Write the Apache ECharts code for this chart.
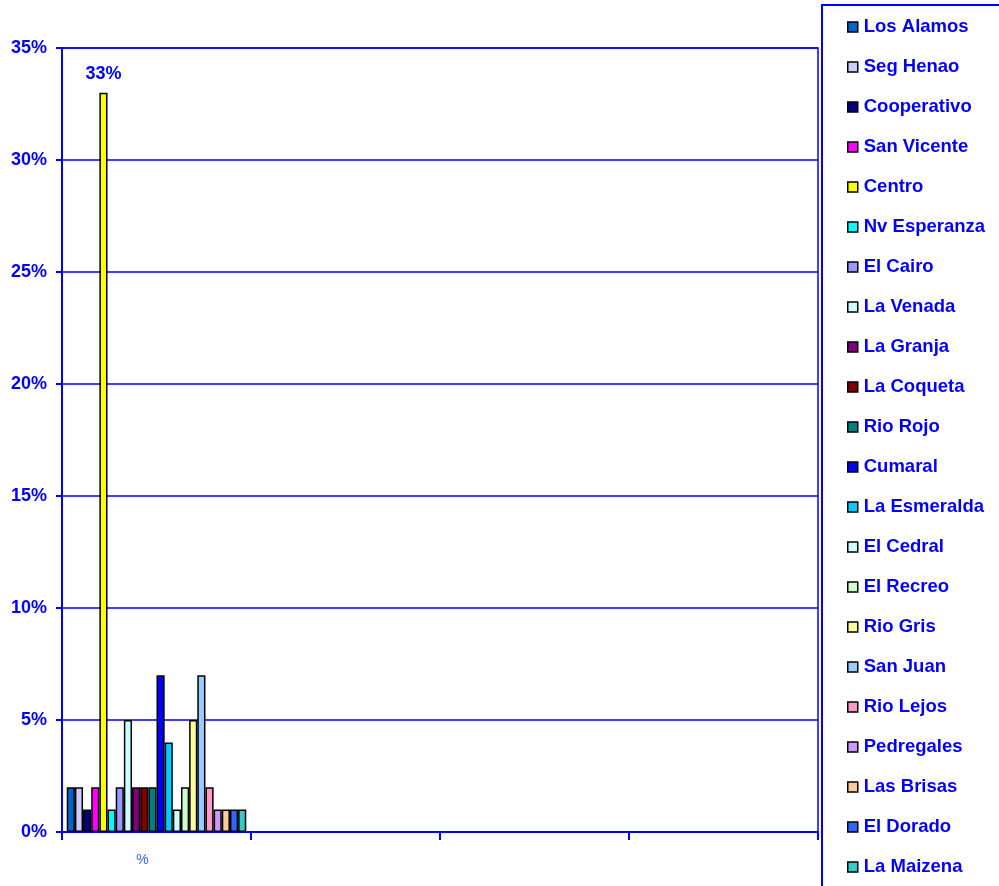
<!DOCTYPE html>
<html>
<head>
<meta charset="utf-8">
<script src="https://cdn.jsdelivr.net/npm/echarts@6/dist/echarts.min.js"></script>
<style>
html,body{margin:0;padding:0;background:#fff;}
#c{width:999px;height:886px;}
</style>
</head>
<body>
<div id="c"></div>
<script>
const categories = ['%', '', '', ''];
const seriesNames = ['Los Alamos','Seg Henao','Cooperativo','San Vicente','Centro','Nv Esperanza','El Cairo','La Venada','La Granja','La Coqueta','Rio Rojo','Cumaral','La Esmeralda','El Cedral','El Recreo','Rio Gris','San Juan','Rio Lejos','Pedregales','Las Brisas','El Dorado','La Maizena'];
const seriesValues = [2, 2, 1, 2, 33, 1, 2, 5, 2, 2, 2, 7, 4, 1, 2, 5, 7, 2, 1, 1, 1, 1];
const seriesColors = ['#0066CC','#CCCCFF','#000080','#FF00FF','#FFFF00','#00FFFF','#9999FF','#CCFFFF','#800080','#800000','#008080','#0000FF','#00CCFF','#CCFFFF','#CCFFCC','#FFFF99','#99CCFF','#FF99CC','#CC99FF','#FFCC99','#3366FF','#33CCCC'];
const labeledSeries = ['Centro'];
const yTicks = {min: 0, max: 35, interval: 5};

const BLUE = '#0000FF';
const FONT = '"Liberation Sans", Arial, sans-serif';

const chart = echarts.init(document.getElementById('c'));
const series = seriesNames.map((name, i) => ({
  name: name,
  type: 'bar',
  data: [seriesValues[i], null, null, null],
  barGap: '0%',
  barCategoryGap: '5%',
  itemStyle: {color: seriesColors[i], borderColor: '#000', borderWidth: 1.5},
  label: {
    show: labeledSeries.includes(name),
    position: 'top',
    distance: 10,
    formatter: '{c}%',
    color: BLUE,
    fontWeight: 'bold',
    fontSize: 18,
    fontFamily: FONT
  },
  emphasis: {disabled: true}
}));

chart.setOption({
  animation: false,
  backgroundColor: '#fff',
  grid: {left: 62, right: 181, top: 48, bottom: 54, show: true, borderColor: BLUE, borderWidth: 1.5, backgroundColor: 'transparent'},
  xAxis: {
    type: 'category',
    data: categories,
    boundaryGap: true,
    axisLine: {lineStyle: {color: BLUE, width: 2}},
    axisTick: {show: true, interval: 0, length: 8, lineStyle: {color: BLUE, width: 2}},
    axisLabel: {color: '#3366FF', fontSize: 14, fontFamily: FONT, margin: 21, padding: [0, 28, 0, 0]}
  },
  yAxis: {
    type: 'value',
    min: yTicks.min,
    max: yTicks.max,
    interval: yTicks.interval,
    axisLine: {show: true, lineStyle: {color: BLUE, width: 2}},
    axisTick: {show: true, length: 6, lineStyle: {color: BLUE, width: 2}},
    axisLabel: {formatter: '{value}%', color: BLUE, fontWeight: 'bold', fontSize: 18, fontFamily: FONT, margin: 15, padding: [4, 0, 0, 0]},
    splitLine: {show: true, lineStyle: {color: BLUE, width: 1.5}}
  },
  legend: {
    orient: 'vertical',
    left: 842,
    top: 12,
    icon: 'rect',
    itemWidth: 10,
    itemHeight: 10,
    itemGap: 20,
    selectedMode: false,
    data: seriesNames,
    textStyle: {color: BLUE, fontWeight: 'bold', fontSize: 18.5, fontFamily: FONT, lineHeight: 20, padding: [0, 0, 0, 1]},
    itemStyle: {borderColor: '#000', borderWidth: 1.5}
  },
  graphic: [{
    type: 'rect',
    shape: {x: 822, y: 5, width: 200, height: 900},
    style: {fill: 'none', stroke: BLUE, lineWidth: 2},
    silent: true
  }],
  series: series
});
</script>
</body>
</html>
